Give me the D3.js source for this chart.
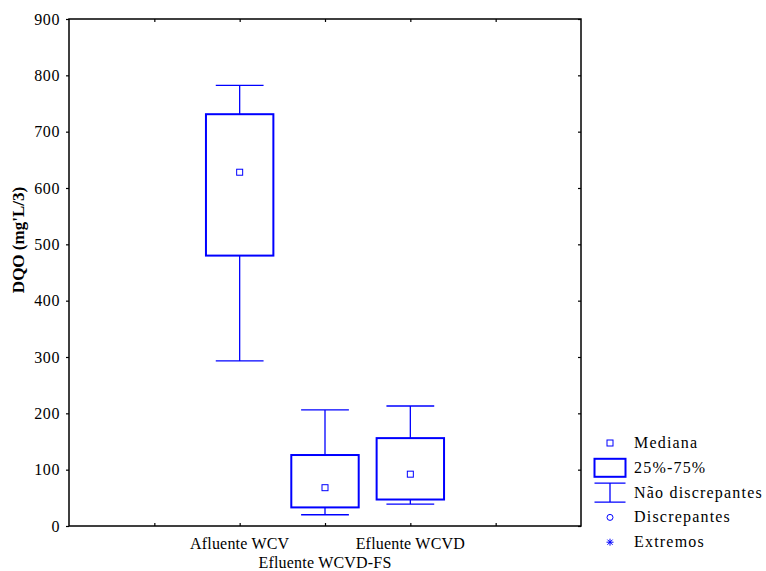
<!DOCTYPE html>
<html>
<head>
<meta charset="utf-8">
<script src="https://cdn.jsdelivr.net/npm/d3@7"></script>
<style>
  body { margin: 0; background: #fff; }
  text { font-family: "Liberation Serif", "Times New Roman", serif; }
</style>
</head>
<body>
<div id="chart"></div>
<script>
// data
var categories = ["Afluente WCV", "Efluente WCVD-FS", "Efluente WCVD"];
var whiskerLow = [293, 20, 39];
var q1 = [480, 33, 47];
var median = [628, 68, 92];
var q3 = [731, 126, 156];
var whiskerHigh = [782, 206, 213];
var yTicks = [0, 100, 200, 300, 400, 500, 600, 700, 800, 900];
var legendLabels = ["Mediana", "25%-75%", "Não discrepantes", "Discrepantes", "Extremos"];

var blue = "#0000ff";
var width = 766, height = 571;
var margin = { top: 19, right: 185, bottom: 45, left: 69 };

var svg = d3.select("#chart")
    .append("svg")
    .attr("width", width)
    .attr("height", height);

// x: categories sit at positions 2,3,4 on a 0..6 scale
var x = d3.scaleLinear()
    .domain([0, 6])
    .range([margin.left, width - margin.right]);

var y = d3.scaleLinear()
    .domain([0, 900])
    .range([height - margin.bottom, margin.top]);

var xTicks = [1, 2, 3, 4, 5];

// axes on four sides
svg.append("g")
    .attr("transform", "translate(" + x(0) + ",0)")
    .call(d3.axisLeft(y).tickValues(yTicks).tickSize(3).tickPadding(6))
    .call(function (g) {
        g.select(".domain").remove();
        g.selectAll("line").attr("stroke-width", 1.2);
        g.selectAll("text").attr("font-size", 16).attr("fill", "#000")
            .attr("letter-spacing", 0.6);
    });

svg.append("g")
    .attr("transform", "translate(" + x(6) + ",0)")
    .call(d3.axisLeft(y).tickValues(yTicks).tickSize(3).tickFormat(""))
    .call(function (g) {
        g.select(".domain").remove();
        g.selectAll("line").attr("stroke-width", 1.2);
    });

svg.append("g")
    .attr("transform", "translate(0," + y(900) + ")")
    .call(d3.axisBottom(x).tickValues(xTicks).tickSize(3).tickFormat(""))
    .call(function (g) {
        g.select(".domain").remove();
        g.selectAll("line").attr("stroke-width", 1.2);
    });

svg.append("g")
    .attr("transform", "translate(0," + y(0) + ")")
    .call(d3.axisTop(x).tickValues(xTicks).tickSize(3).tickFormat(""))
    .call(function (g) {
        g.select(".domain").remove();
        g.selectAll("line").attr("stroke-width", 1.2);
    });

// frame
svg.append("rect")
    .attr("x", x(0))
    .attr("y", y(900))
    .attr("width", x(6) - x(0))
    .attr("height", y(0) - y(900))
    .attr("fill", "none")
    .attr("stroke", "#000")
    .attr("stroke-width", 1.5);

// category labels, staggered
svg.selectAll(".xlab")
    .data(categories)
    .enter()
    .append("text")
    .attr("class", "xlab")
    .attr("x", function (d, i) { return x(i + 2); })
    .attr("y", function (d, i) { return i % 2 === 0 ? 549 : 568; })
    .attr("text-anchor", "middle")
    .attr("font-size", 16)
    .attr("letter-spacing", 0.2)
    .text(function (d) { return d; });

// y title
svg.append("text")
    .attr("transform", "translate(24," + 240 + ") rotate(-90)")
    .attr("text-anchor", "middle")
    .attr("font-size", 17)
    .attr("font-weight", "bold")
    .text("DQO (mg'L/3)");

// boxes
var boxW = 0.79, capW = 0.56;   // in x units
var boxes = svg.append("g")
    .selectAll("g")
    .data(categories)
    .enter()
    .append("g");

boxes.append("line")
    .attr("x1", function (d, i) { return x(i + 2); })
    .attr("x2", function (d, i) { return x(i + 2); })
    .attr("y1", function (d, i) { return y(whiskerHigh[i]); })
    .attr("y2", function (d, i) { return y(q3[i]); })
    .attr("stroke", blue).attr("stroke-width", 1.3);

boxes.append("line")
    .attr("x1", function (d, i) { return x(i + 2); })
    .attr("x2", function (d, i) { return x(i + 2); })
    .attr("y1", function (d, i) { return y(q1[i]); })
    .attr("y2", function (d, i) { return y(whiskerLow[i]); })
    .attr("stroke", blue).attr("stroke-width", 1.3);

boxes.append("line")
    .attr("x1", function (d, i) { return x(i + 2 - capW / 2); })
    .attr("x2", function (d, i) { return x(i + 2 + capW / 2); })
    .attr("y1", function (d, i) { return y(whiskerHigh[i]); })
    .attr("y2", function (d, i) { return y(whiskerHigh[i]); })
    .attr("stroke", blue).attr("stroke-width", 1.3);

boxes.append("line")
    .attr("x1", function (d, i) { return x(i + 2 - capW / 2); })
    .attr("x2", function (d, i) { return x(i + 2 + capW / 2); })
    .attr("y1", function (d, i) { return y(whiskerLow[i]); })
    .attr("y2", function (d, i) { return y(whiskerLow[i]); })
    .attr("stroke", blue).attr("stroke-width", 1.3);

boxes.append("rect")
    .attr("x", function (d, i) { return x(i + 2 - boxW / 2); })
    .attr("width", x(boxW) - x(0))
    .attr("y", function (d, i) { return y(q3[i]); })
    .attr("height", function (d, i) { return y(q1[i]) - y(q3[i]); })
    .attr("fill", "none")
    .attr("stroke", blue).attr("stroke-width", 2);

boxes.append("rect")
    .attr("x", function (d, i) { return x(i + 2) - 3; })
    .attr("y", function (d, i) { return y(median[i]) - 3; })
    .attr("width", 6)
    .attr("height", 6)
    .attr("fill", "#fff")
    .attr("stroke", blue).attr("stroke-width", 1);

// legend
var lx = 610, ly0 = 443, lstep = 24.8;
var legend = svg.append("g");

legend.selectAll("text")
    .data(legendLabels)
    .enter()
    .append("text")
    .attr("x", 634)
    .attr("y", function (d, i) { return ly0 + i * lstep + 5; })
    .attr("font-size", 16)
    .attr("letter-spacing", 1.2)
    .text(function (d) { return d; });

// median symbol
legend.append("rect")
    .attr("x", lx - 3).attr("y", ly0 - 3)
    .attr("width", 6).attr("height", 6)
    .attr("fill", "#fff").attr("stroke", blue).attr("stroke-width", 1);

// box symbol
legend.append("rect")
    .attr("x", lx - 15.5).attr("y", ly0 + lstep - 9)
    .attr("width", 31).attr("height", 18)
    .attr("fill", "none").attr("stroke", blue).attr("stroke-width", 2);

// whisker symbol
var wy = ly0 + 2 * lstep;
legend.append("path")
    .attr("d", "M" + (lx - 15.5) + "," + (wy - 9.5) + "H" + (lx + 15.5) +
        "M" + lx + "," + (wy - 9.5) + "V" + (wy + 9.5) +
        "M" + (lx - 15.5) + "," + (wy + 9.5) + "H" + (lx + 15.5))
    .attr("fill", "none").attr("stroke", blue).attr("stroke-width", 1.3);

// outlier symbol
legend.append("circle")
    .attr("cx", lx).attr("cy", ly0 + 3 * lstep).attr("r", 3)
    .attr("fill", "none").attr("stroke", blue).attr("stroke-width", 1);

// extreme symbol
legend.append("path")
    .attr("transform", "translate(" + lx + "," + (ly0 + 4 * lstep) + ")")
    .attr("d", "M-3.5,0H3.5M0,-3.5V3.5M-2.6,-2.6L2.6,2.6M-2.6,2.6L2.6,-2.6")
    .attr("stroke", blue).attr("stroke-width", 1);
</script>
</body>
</html>
